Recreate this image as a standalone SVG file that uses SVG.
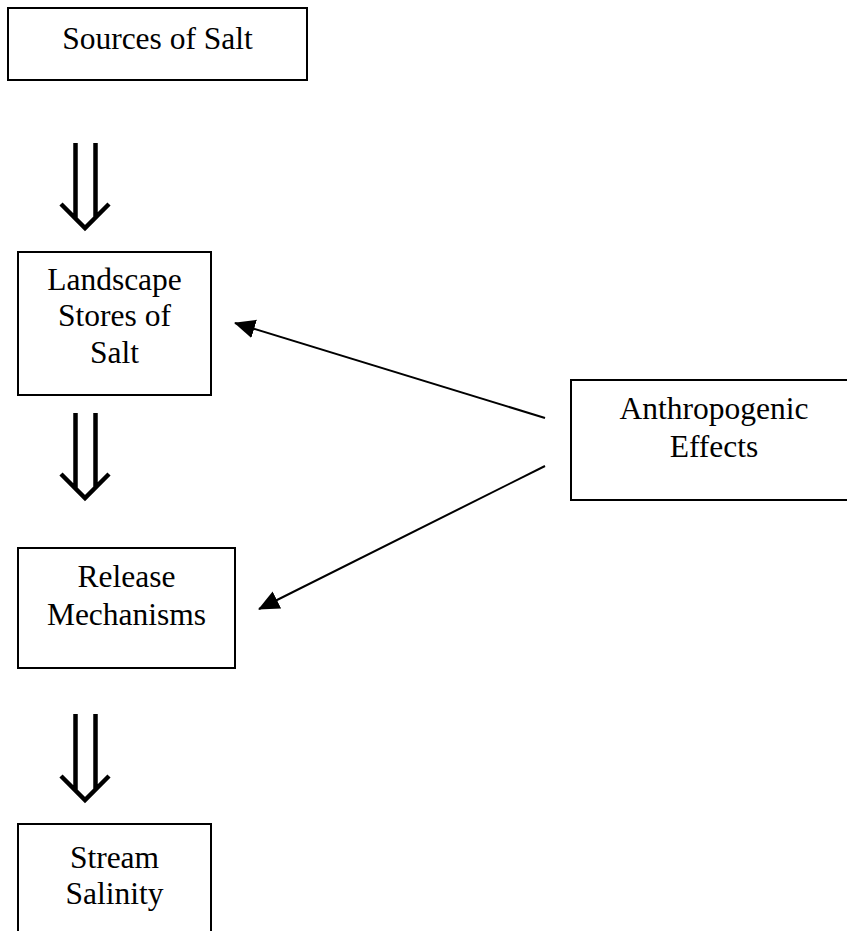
<svg xmlns="http://www.w3.org/2000/svg" width="847" height="931" viewBox="0 0 847 931">
<style>
.box{fill:#fff;stroke:#000;stroke-width:2}
.lbl{font-family:"Liberation Serif","Times New Roman",serif;font-size:31.5px;fill:#000;text-anchor:middle}
.dbl{fill:none;stroke:#000;stroke-width:4.5;stroke-linejoin:miter;stroke-linecap:butt}
.con{fill:none;stroke:#000;stroke-width:2}
</style>
<defs>
<marker id="ah" markerWidth="22" markerHeight="20" refX="20" refY="10" orient="auto" markerUnits="userSpaceOnUse">
<path d="M0,0.5 L21,10 L0,19.5 Z" fill="#000"/>
</marker>
</defs>
<rect width="847" height="931" fill="#fff"/>
<g id="sources">
<rect class="box" x="8" y="8" width="299" height="72"/>
<text class="lbl" x="157.5" y="49">Sources of Salt</text>
</g>
<g id="landscape">
<rect class="box" x="18" y="252" width="193" height="143"/>
<text class="lbl" x="114.5" y="290">Landscape</text>
<text class="lbl" x="114.5" y="326">Stores of</text>
<text class="lbl" x="114.5" y="363">Salt</text>
</g>
<g id="release">
<rect class="box" x="18" y="548" width="217" height="120"/>
<text class="lbl" x="126.5" y="587">Release</text>
<text class="lbl" x="126.5" y="625">Mechanisms</text>
</g>
<g id="stream">
<rect class="box" x="18" y="824" width="193" height="120"/>
<text class="lbl" x="114.5" y="868">Stream</text>
<text class="lbl" x="114.5" y="904">Salinity</text>
</g>
<g id="anthropogenic">
<rect class="box" x="571" y="380" width="286" height="120"/>
<text class="lbl" x="714" y="419">Anthropogenic</text>
<text class="lbl" x="714" y="457">Effects</text>
</g>
<g id="connectors">
<path class="dbl" d="M75.5,143 V218 M95.5,143 V218 M61,204 L85,228 L109,204"/>
<path class="dbl" d="M75.5,413 V488 M95.5,413 V488 M61,474 L85,498 L109,474"/>
<path class="dbl" d="M75.5,714 V790 M95.5,714 V790 M61,776 L85,800 L109,776"/>
<line class="con" x1="545" y1="418" x2="235" y2="323" marker-end="url(#ah)"/>
<line class="con" x1="545" y1="466" x2="259" y2="609" marker-end="url(#ah)"/>
</g>
</svg>
